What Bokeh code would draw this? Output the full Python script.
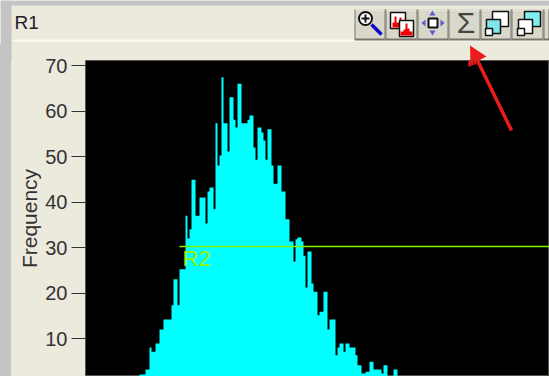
from bokeh.plotting import figure
from bokeh.embed import file_html
from bokeh.resources import INLINE
from bokeh.core.properties import value
from bokeh.layouts import column, row
from bokeh.models import Arrow, FixedTicker, Range1d, Div

W, H = 549, 376
HEAD_H = 60
OVERLAP = 16
BAND_W = 11
FL, FT = 85, 60
BG = "#ECE9DD"
GREY = "#C4C4C4"
RED = "#EC1C1C"

# histogram: frequency of each run of channels, and how many channels that run spans
run_values = [2.1,3.2,8.0,7.1,8.9,12,14.2,17.3,23,17.3,25.2,37,32,34,44.9,37,41,35.3,42.3,43.2,38.4,57.3,48,50.2,67.4,57.3,51.1,63,58.1,56.4,66,57.3,58.1,59,52,49.3,56.4,55.3,53.5,49.3,56,48,44,48,42.3,36.2,31.3,26.9,31.8,32.2,31.3,28.2,21.2,29.1,22.1,20.3,15.1,15.9,20.3,12,14.2,6.3,8,8.9,7.1,8.9,8,6.3,4.1,2.3,2.7,4.9,3.2,2.3,4.1,1.5,3.2]
run_lengths = [3,2,1,2,2,2,4,1,2,1,3,1,1,1,2,2,3,1,1,2,1,1,1,1,1,2,1,2,1,1,2,3,1,2,1,1,2,1,1,1,2,1,2,2,2,2,2,1,1,2,1,1,1,2,1,2,1,2,2,1,3,1,1,2,1,2,3,1,2,2,2,2,4,1,2,3,2]
y_ticks = [10, 20, 30, 40, 50, 60, 70]
gate_level = 30.2
gate_label = "R2"
y_label = "Frequency"
title = "R1"

edges_x, heights = [], []
c = 0
for v, n in zip(run_values, run_lengths):
    edges_x.append(c); heights.append(v)
    c += n
edges_x.append(c); heights.append(0)

# the part of the plot's border below the title bar gets the window colour from the page
lower_fill = {"background": f"linear-gradient(to bottom, transparent {OVERLAP}px, {BG} {OVERLAP}px)"}

# ---------- main histogram ----------
p = figure(width=W - BAND_W, height=H - HEAD_H + OVERLAP, output_backend="svg", toolbar_location=None,
           x_range=Range1d(-27, 205), y_range=Range1d(1.65, 71.1),
           background_fill_color="black", border_fill_color=BG, border_fill_alpha=0,
           min_border_left=FL - BAND_W, min_border_top=OVERLAP,
           min_border_right=0, min_border_bottom=0, margin=0, styles=lower_fill)
p.xaxis.visible = False
p.grid.visible = False
p.outline_line_color = "#55554d"
ax = p.yaxis[0]
ax.ticker = FixedTicker(ticks=y_ticks)
ax.minor_tick_line_color = None
ax.axis_line_color = None
ax.major_tick_line_color = "#333333"
ax.major_tick_in = 0
ax.major_tick_out = 14
ax.major_label_text_font = "Liberation Sans"
ax.major_label_text_font_size = "20px"
ax.major_label_text_color = "#333333"
ax.major_label_standoff = 4
ax.axis_label = y_label
ax.axis_label_text_font = "Liberation Sans"
ax.axis_label_text_font_style = "normal"
ax.axis_label_text_font_size = "21px"
ax.axis_label_text_color = "#333333"
ax.axis_label_standoff = 1

p.varea_step(x=edges_x, y1=[0] * len(edges_x), y2=heights, step_mode="after", fill_color="#00FFFF")
p.segment(x0=[20], x1=[205], y0=[gate_level], y1=[gate_level], line_color="#7FF500", line_width=1.5)
p.text(x=[21.5], y=[gate_level + 0.2], text=[gate_label], text_color="#9BF000",
       text_font_size="22px", text_baseline="top", text_font=value("Liberation Sans"))


def red(x0, y0, x1, y1, w):
    p.add_layout(Arrow(x_start=x0 - FL, y_start=H - y0, x_end=x1 - FL, y_end=H - y1,
                       start_units="screen", end_units="screen", end=None,
                       line_color=RED, line_width=w))


red(511, 130, 476, 58, 3.5)
for bx, by in [(469, 66), (472, 65), (475, 64), (478, 61), (481, 59)]:
    red(469.5, 45.5, bx, by, 2.5)

# ---------- title bar ----------
h = figure(width=W, height=HEAD_H, output_backend="svg", toolbar_location=None,
           x_range=Range1d(0, W), y_range=Range1d(HEAD_H, 0),
           x_axis_type=None, y_axis_type=None, background_fill_color=BG, border_fill_color=BG,
           min_border=0, margin=0, outline_line_color=None)
h.grid.visible = False


def box(x0, y0, x1, y1, color, line=None, lw=1):
    h.quad(left=[x0], right=[x1], top=[y0], bottom=[y1], fill_color=color, line_color=line, line_width=lw)


def seg(xs, ys, color, lw):
    h.line(xs, ys, line_color=color, line_width=lw)


box(0, 0, W, 5, GREY)
box(0, 0, BAND_W, HEAD_H, GREY)
box(12, 39, W, 41, "#FBFAF6")

edges = [354, 385, 417, 448, 480, 511, 543, 549]
for a, b in zip(edges[:-1], edges[1:]):
    box(a, 9, b, 40, "#77756C")
    box(a + 1, 9, b - 1, 38, "#D9D6CA")
    box(a + 1, 9, b - 1, 10, "#F4F3EC")

# magnifier
h.circle(x=[365], y=[18], radius=6.5, fill_color="#FFFFFF", line_color="#111111", line_width=2)
seg([361, 369], [18, 18], "#111111", 2)
seg([365, 365], [14, 22], "#111111", 2)
seg([371, 381], [24, 34], "#0A0ACD", 3.5)

# histogram windows
box(390, 12, 405, 28, "#FFFFFF", "#111111", 1.5)
h.varea_step(x=[392, 394, 396, 399, 401, 403], y1=[27] * 6, y2=[22, 16, 22, 17, 24, 24],
             step_mode="after", fill_color="#F00000")
box(399, 20, 413, 36, "#FFFFFF", "#111111", 1.5)
h.varea_step(x=[400, 403, 405, 407, 409, 412], y1=[35] * 6, y2=[31, 29, 23, 28, 31, 31],
             step_mode="after", fill_color="#F00000")

# centring icon
box(428, 18, 437, 27, "#FFFFFF", "#111111", 2)
h.patches(xs=[[429, 435, 432], [429, 435, 432], [425, 425, 421], [440, 440, 444]],
          ys=[[15, 15, 10], [30, 30, 35], [19, 26, 22.5], [19, 26, 22.5]],
          fill_color="#5A5AD2", line_color=None)

# sigma
h.text(x=[465.5], y=[22], text=["Σ"], text_color="#454540", text_align="center", text_baseline="middle",
       text_font_size="30px", text_font=value("Liberation Sans"))

# two overlapping-window icons
for x, back, front in [(484, "#FFFFFF", "#7FE5E8"), (516, "#7FF0F0", "#FFFFFF")]:
    box(x + 8, 11, x + 24, 26, back, "#111111", 1.5)
    box(x + 2, 19, x + 16, 33, front, "#111111", 1.5)
    box(x + 1, 28, x + 8, 35, "#FFFFFF", "#111111", 1.5)

h.text(x=[14], y=[21.5], text=[title], text_color="#222222", text_baseline="middle",
       text_font_size="19px", text_font=value("Liberation Sans"))

# part of the red pointer that lies above the plot frame
h.patch(x=[469.5, 486, 480, 479, 470], y=[45, 56, 59, 66, 66], fill_color=RED, line_color=None)

band = Div(text="", width=BAND_W, height=H - HEAD_H + OVERLAP, margin=0,
           styles={"background-color": GREY})

page = column(h, row(band, p, spacing=0, margin=(-OVERLAP, 0, 0, 0), styles=lower_fill),
              spacing=0, margin=0)
open("out.html", "w").write(file_html(page, INLINE))
